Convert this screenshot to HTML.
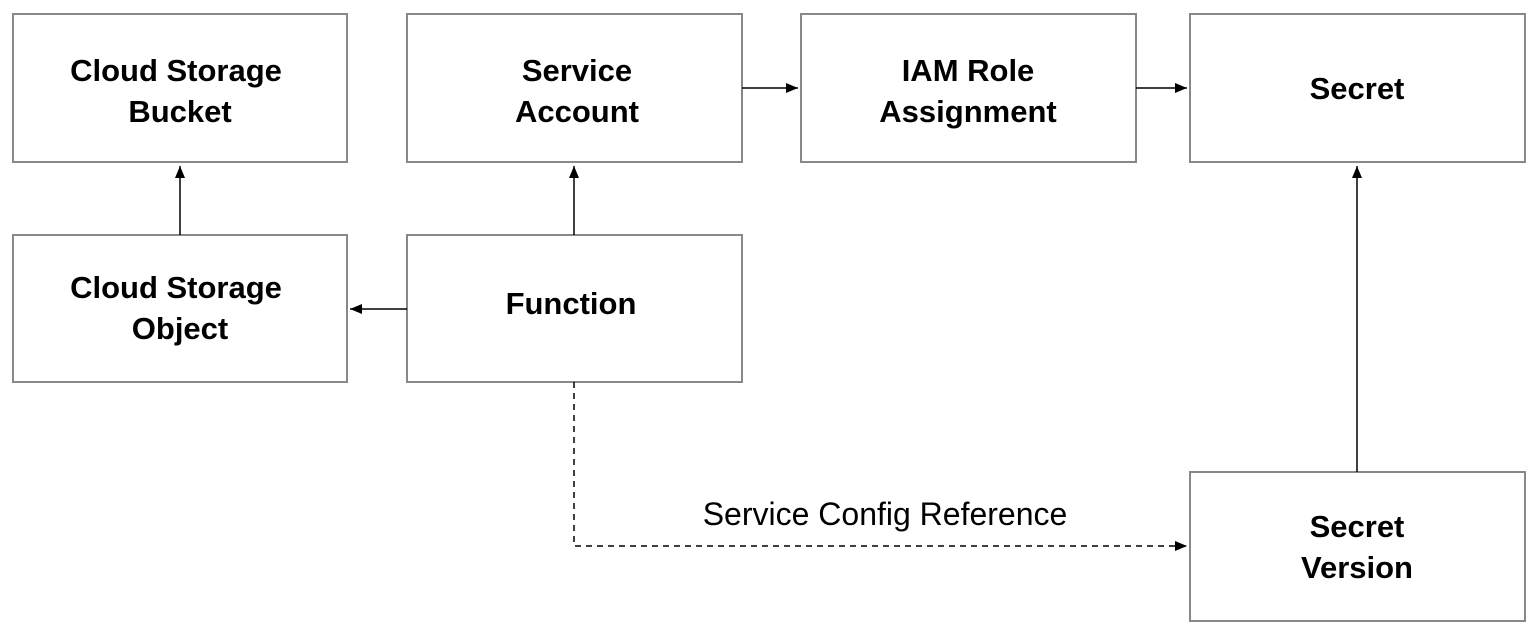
<!DOCTYPE html>
<html><head><style>html,body{margin:0;padding:0;background:#fff}svg{display:block}</style></head>
<body>
<svg width="1538" height="634" viewBox="0 0 1538 634" xmlns="http://www.w3.org/2000/svg">
<defs><marker id="a" markerWidth="12" markerHeight="10" refX="12" refY="5" orient="auto" markerUnits="userSpaceOnUse"><path d="M0,0 L12,5 L0,10 Z" fill="#000"/></marker></defs>
<g fill="#fff" stroke="#888" stroke-width="2">
<rect x="13" y="14" width="334" height="148"/>
<rect x="407" y="14" width="335" height="148"/>
<rect x="801" y="14" width="335" height="148"/>
<rect x="1190" y="14" width="335" height="148"/>
<rect x="13" y="235" width="334" height="147"/>
<rect x="407" y="235" width="335" height="147"/>
<rect x="1190" y="472" width="335" height="149"/>
</g>
<g stroke="#000" stroke-width="1.5" fill="none" marker-end="url(#a)">
<line x1="742" y1="88" x2="798" y2="88"/>
<line x1="1136" y1="88" x2="1187" y2="88"/>
<line x1="180" y1="235" x2="180" y2="166"/>
<line x1="574" y1="235" x2="574" y2="166"/>
<line x1="407" y1="309" x2="350" y2="309"/>
<line x1="1357" y1="472" x2="1357" y2="166"/>
<polyline points="574,382 574,546 1187,546" stroke-dasharray="6,5"/>
</g>
<g font-family="Liberation Sans, sans-serif" font-weight="bold" font-size="31" text-anchor="middle" fill="#000">
<text x="176" y="81">Cloud Storage</text><text x="180" y="122">Bucket</text>
<text x="577" y="81">Service</text><text x="577" y="122">Account</text>
<text x="968" y="81">IAM Role</text><text x="968" y="122">Assignment</text>
<text x="1357" y="99">Secret</text>
<text x="176" y="298">Cloud Storage</text><text x="180" y="339">Object</text>
<text x="571" y="314">Function</text>
<text x="1357" y="537">Secret</text><text x="1357" y="578">Version</text>
</g>
<text x="885" y="525" font-family="Liberation Sans, sans-serif" font-size="32" text-anchor="middle" fill="#000">Service Config Reference</text>
</svg>
</body></html>
